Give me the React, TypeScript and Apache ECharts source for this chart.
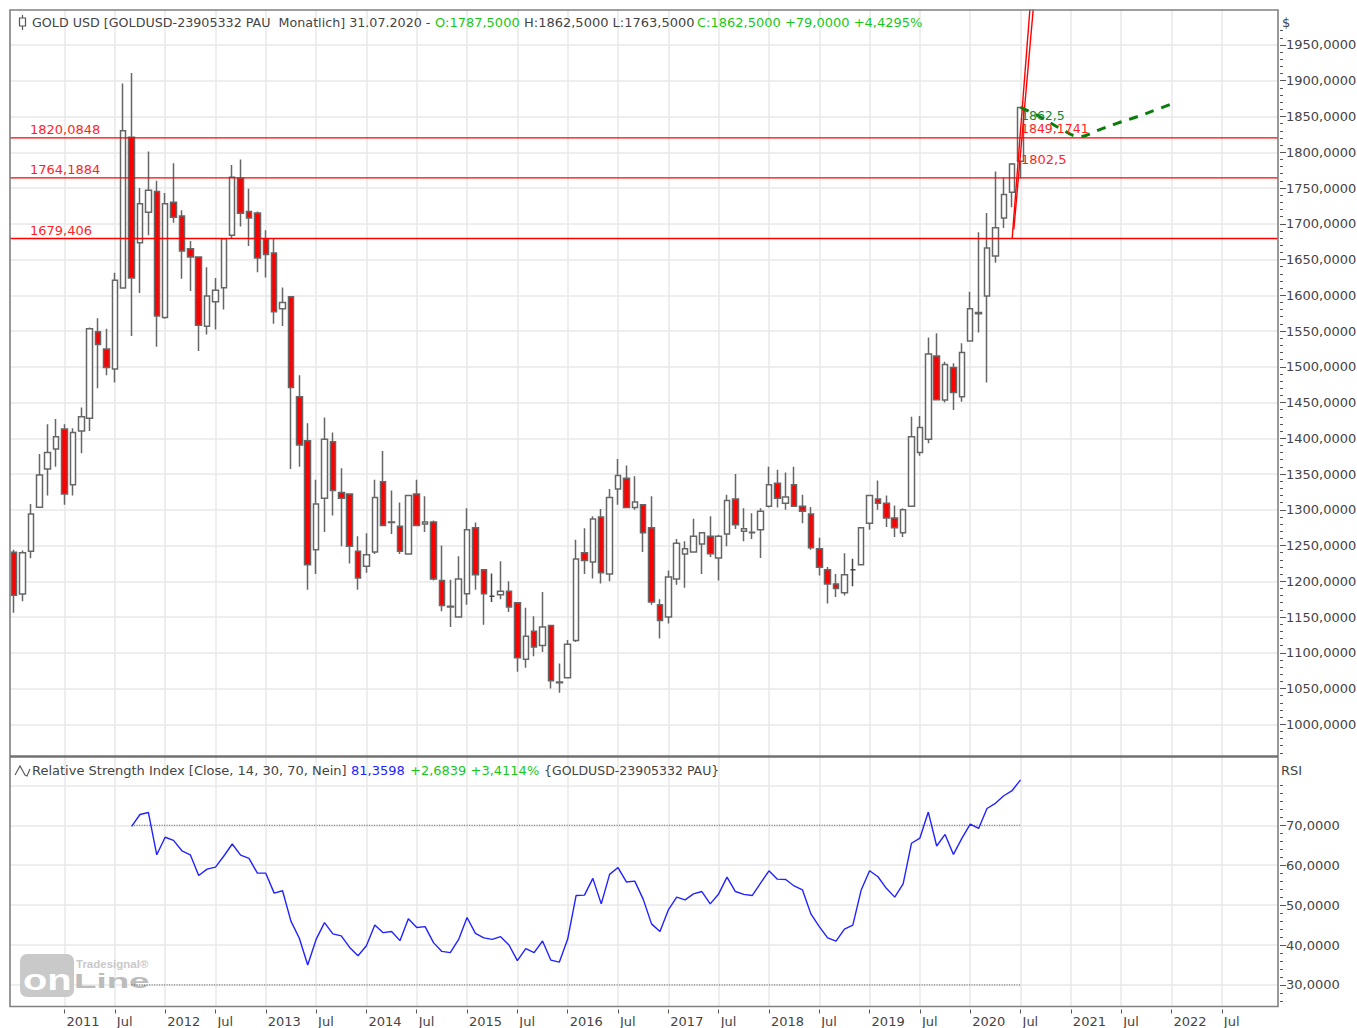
import React, { useEffect, useRef } from "react";
import * as echarts from "echarts";

const opens = [1240.5,1182,1242,1303.4,1357,1385,1413,1335,1410,1428,1549,1525,1497,1610,1821,1673.5,1716,1745,1569,1730,1711,1665,1653.5,1556.5,1591,1610.5,1684,1763.5,1717,1715,1679,1659,1581,1598,1458,1396.5,1244,1316,1395,1324,1322,1242,1221,1241,1339,1283,1277,1238,1322,1280,1283,1201,1165,1150,1182.5,1275,1216,1179,1181,1186,1170,1091,1130,1110,1138,1059,1065,1117,1240,1227,1290,1210,1329,1344,1303,1307,1275,1167,1150,1203,1238,1241,1252,1263,1232.5,1266,1315,1270,1268.5,1272,1305,1337,1309,1335,1305,1294,1245.5,1216,1196,1184,1216,1223,1281,1315,1309,1288.5,1268,1305,1380,1398.5,1515,1453.5,1499,1458,1536,1574,1599,1655,1708,1744,1787.5];
const closes = [1180.4,1240,1294,1348.6,1380,1402,1322,1408,1430,1553,1531,1499,1621,1830,1624,1728,1747,1571,1728,1709,1662,1653.5,1558,1599,1607,1679,1765,1714.6,1708,1652,1657,1577,1590,1471,1390.5,1223,1308,1398.5,1327,1316,1249,1204.5,1237,1317,1278,1282,1242,1320,1278,1283,1203,1166,1164,1203,1272,1209,1182.5,1179,1186,1164,1093,1123,1108,1136,1061,1058,1112,1231,1229,1287,1212,1317,1348,1303,1311,1268,1171,1145,1206,1253,1245.5,1263,1268,1238.5,1263,1313,1279,1273.5,1268,1298,1335,1316,1318,1305,1298,1247,1219.5,1196,1190,1209,1216,1275,1320,1309,1288.5,1275,1300,1402,1415,1518,1454,1503,1464,1520,1581,1576,1666,1694.5,1741,1783.5,1862.5];
const lows = [1156,1172,1232,1303,1320,1360,1307,1320,1379,1410,1470,1488,1478,1610,1543,1603,1684,1528,1567,1701.5,1623,1606,1522,1545,1552,1580,1680,1696,1669,1632,1625,1560,1557,1357,1360,1188,1210,1269,1292,1249,1225,1188,1212,1238,1277,1266,1238,1237,1277,1269,1201,1158,1136,1150,1167,1188,1139,1171,1175,1157,1073.5,1079,1095,1101,1050,1044,1065,1115,1210,1204,1197,1200,1307,1302,1300,1241,1167,1120,1141,1195,1191,1240,1210,1234,1201,1249,1273,1256,1259,1232.5,1303,1303,1300,1305,1281,1244,1208,1169,1178,1180,1193,1223,1272,1300,1276,1262,1262,1305,1375.5,1393,1454,1450,1439.5,1451,1536,1548,1478,1645.5,1694,1723,1763.5];
const highs = [1244,1243,1308,1378,1419.5,1427,1419.5,1414,1443,1555,1568,1553,1631.5,1896,1911,1750,1801,1760,1743,1784.5,1719,1676,1654,1639,1624,1679,1782,1790,1749,1717,1691,1679,1611,1598,1488,1421,1342,1429,1408,1358,1322,1263,1267,1342,1382,1327,1310,1320,1342,1319,1285,1250,1202,1235,1302,1282,1216,1211,1228,1200,1170,1163,1151,1185,1138,1085,1118,1258,1274,1291,1301,1329,1371,1362,1347,1307,1319,1175,1215,1259,1256,1287.5,1268.5,1291,1265,1321,1350,1302,1295,1302,1360,1356,1352,1360,1321,1304,1261,1220,1210,1239,1231.5,1275,1320,1341,1320,1306,1302,1430,1431,1541,1547,1507,1505,1533,1605,1688,1715,1773,1764,1785,1862.5];

const rsiFirstIndex = 14;
const rsiValues = [69.7,72.7,73.2,62.6,67,66.2,63.6,62.6,57.4,59,59.5,62.3,65.3,62.5,61.7,58,58,53,53.6,46,41.7,35,41.4,45.6,42.8,42.3,39.4,37.3,39.8,45,43.1,43.4,41.1,46.6,44.4,44.6,40.6,38.4,38.1,41.4,46.9,42.9,41.8,41.4,42.1,40,36.1,39.1,38.1,41,36.2,35.7,41.5,52.4,52.5,56.7,50.3,57.7,59.4,55.8,56,51.5,45.3,43.4,48.8,52,51.3,52.8,53.4,50.3,52.8,57,53.4,52.7,52.4,55.5,58.6,56.5,56.4,54.8,53.8,47.8,44.6,41.8,41,44,45,53.8,58.6,57.1,54.2,52,55.3,65.5,66.8,73.3,64.8,67.7,62.7,66.7,70.3,69.2,74.2,75.5,77.4,78.7,81.36];

const levelValues = [1820.0848, 1764.1884, 1679.406];
const levelLabels = ["1820,0848", "1764,1884", "1679,406"];
const fanLineA = [[119, 1679.4], [121.15, 2005]];
const fanLineB = [[119.2, 1692], [121.55, 2005]];
const projection = [[120,1862.9],[122.3,1849.7],[124.7,1833.5],[127.1,1821.8],[129.1,1830.2],[131.5,1840.5],[133.9,1849.7],[136.3,1860],[138,1867.5]];

const xTickValues = [6,12,18,24,30,36,42,48,54,60,66,72,78,84,90,96,102,108,114,120,126,132,138,144];
const xTickLabels = ["2011","Jul","2012","Jul","2013","Jul","2014","Jul","2015","Jul","2016","Jul","2017","Jul","2018","Jul","2019","Jul","2020","Jul","2021","Jul","2022","Jul"];
const priceTicks = [1000,1050,1100,1150,1200,1250,1300,1350,1400,1450,1500,1550,1600,1650,1700,1750,1800,1850,1900,1950];
const priceMinor = [960,970,980,990,1010,1020,1030,1040,1060,1070,1080,1090,1110,1120,1130,1140,1160,1170,1180,1190,1210,1220,1230,1240,1260,1270,1280,1290,1310,1320,1330,1340,1360,1370,1380,1390,1410,1420,1430,1440,1460,1470,1480,1490,1510,1520,1530,1540,1560,1570,1580,1590,1610,1620,1630,1640,1660,1670,1680,1690,1710,1720,1730,1740,1760,1770,1780,1790,1810,1820,1830,1840,1860,1870,1880,1890,1910,1920,1930,1940,1960,1970];
const rsiGrid = [30,40,50,60,70,80];
const rsiTicks = [30,40,50,60,70];
const rsiMinor = [26,28,32,34,36,38,42,44,46,48,52,54,56,58,62,64,66,68,72,74,76,78,80];

const TXT = "#444444", GREEN = "#18c818", RED = "#ff1f1f", BLUE = "#2222ff", GRID = "#e8e8e8", FRAME = "#808080";
const FONT = "'DejaVu Sans'";
const comma = (v: number) => v.toFixed(4).replace(".", ",");
const t = (text: string, x: number, y: number, fill: string, fontSize = 13, extra: any = {}) => ({
  type: "text", x, y, silent: true, z: extra.z ?? 20, scaleX: extra.scaleX ?? 1, originX: 0,
  style: { text, fill, font: `${extra.weight || "normal"} ${fontSize}px ${extra.family || FONT}`, verticalAlign: "middle" },
});

export default function App() {
  const ref = useRef<HTMLDivElement>(null);
  useEffect(() => {
    const chart = echarts.init(ref.current!, null, { renderer: "svg" });
    const X_MIN = -0.5, X_MAX = 150.7;
    const noLine = { show: false, onZero: false };
    const tickStyle = { color: "#555", width: 1 };
    const yLabel = { show: true, margin: 6, padding: [6, 0, 0, 0], color: TXT, fontFamily: FONT, fontSize: 13, formatter: comma };
    chart.setOption({
      animation: false,
      backgroundColor: "#ffffff",
      grid: [
        { left: 10, width: 1268, top: 10, height: 746, outerBoundsMode: "none" },
        { left: 10, width: 1268, top: 757, height: 249.5, outerBoundsMode: "none" },
      ],
      xAxis: [
        { type: "value", gridIndex: 0, min: X_MIN, max: X_MAX, axisLine: noLine, axisLabel: { show: false },
          axisTick: { show: false, customValues: xTickValues }, splitLine: { show: true, lineStyle: { color: GRID, width: 1.5 } } },
        { type: "value", gridIndex: 1, min: X_MIN, max: X_MAX, offset: 3, axisLine: noLine,
          axisTick: { show: true, length: 4, customValues: xTickValues, lineStyle: tickStyle },
          axisLabel: { show: true, customValues: xTickValues, align: "left", margin: 5, padding: [0, 0, 0, 2], color: TXT, fontFamily: FONT, fontSize: 13,
            formatter: (v: number) => xTickLabels[xTickValues.indexOf(v)] ?? "" },
          splitLine: { show: true, lineStyle: { color: GRID, width: 1.5 } } },
      ],
      yAxis: [
        { type: "value", gridIndex: 0, position: "right", min: 955.6, max: 1998.95, offset: 2, axisLine: noLine,
          axisTick: { show: true, length: 6, customValues: priceTicks, lineStyle: tickStyle },
          axisLabel: { ...yLabel, customValues: priceTicks },
          splitLine: { show: true, lineStyle: { color: GRID, width: 1.5 } } },
        { type: "value", gridIndex: 0, position: "right", min: 955.6, max: 1998.95, offset: 2, axisLine: noLine,
          axisLabel: { show: false }, splitLine: { show: false },
          axisTick: { show: true, length: 3, customValues: priceMinor, lineStyle: tickStyle } },
        { type: "value", gridIndex: 1, position: "right", min: 24.6, max: 87.1, axisLine: noLine, axisLabel: { show: false },
          axisTick: { show: false, customValues: rsiGrid }, splitLine: { show: true, lineStyle: { color: GRID, width: 1.5 } } },
        { type: "value", gridIndex: 1, position: "right", min: 24.6, max: 87.1, offset: 2, axisLine: noLine, splitLine: { show: false },
          axisTick: { show: true, length: 6, customValues: rsiTicks, lineStyle: tickStyle },
          axisLabel: { ...yLabel, customValues: rsiTicks } },
        { type: "value", gridIndex: 1, position: "right", min: 24.6, max: 87.1, offset: 2, axisLine: noLine,
          axisLabel: { show: false }, splitLine: { show: false },
          axisTick: { show: true, length: 3, customValues: rsiMinor, lineStyle: tickStyle } },
      ],
      series: [
        { type: "candlestick", name: "GOLD USD", xAxisIndex: 0, yAxisIndex: 0, barWidth: 6, z: 3,
          itemStyle: { color: "#ffffff", color0: "#ff0000", borderColor: "#666666", borderColor0: "#666666", borderColorDoji: "#444444", borderWidth: 1.5 },
          data: opens.map((o, i) => [i, o, closes[i], lows[i], highs[i]]) },
        ...levelValues.map((v) => ({
          type: "line", xAxisIndex: 0, yAxisIndex: 0, showSymbol: false, symbol: "none", z: 4,
          lineStyle: { color: "#ff0000", width: 1.4 }, data: [[X_MIN, v], [X_MAX, v]],
        })),
        ...[fanLineA, fanLineB].map((d) => ({
          type: "line", xAxisIndex: 0, yAxisIndex: 0, symbol: "none", z: 5, lineStyle: { color: "#ff0000", width: 1.4 }, data: d,
        })),
        { type: "line", xAxisIndex: 0, yAxisIndex: 0, symbol: "none", smooth: 0.4, z: 6,
          lineStyle: { color: "#0a7d0a", width: 3, type: [9, 8] }, data: projection },
        ...[70, 30].map((v) => ({
          type: "line", xAxisIndex: 1, yAxisIndex: 2, symbol: "none", z: 3,
          lineStyle: { color: "#555555", width: 1, type: [1, 1.5] }, data: [[rsiFirstIndex, v], [120, v]],
        })),
        { type: "line", name: "RSI", xAxisIndex: 1, yAxisIndex: 2, symbol: "none", z: 4,
          lineStyle: { color: "#2222ff", width: 1.4 }, data: rsiValues.map((v, i) => [i + rsiFirstIndex, v]) },
      ],
      graphic: [
        { type: "rect", silent: true, z: 15, shape: { x: 10, y: 10, width: 1268, height: 996.5 }, style: { fill: "none", stroke: FRAME, lineWidth: 1.6 } },
        { type: "line", silent: true, z: 15, shape: { x1: 10, y1: 756.5, x2: 1278, y2: 756.5 }, style: { stroke: "#707070", lineWidth: 2.4 } },
        { type: "line", silent: true, z: 20, shape: { x1: 22.5, y1: 15, x2: 22.5, y2: 30 }, style: { stroke: "#555", lineWidth: 1.2 } },
        { type: "rect", silent: true, z: 20, shape: { x: 19.5, y: 18, width: 6, height: 8 }, style: { fill: "#fff", stroke: "#555", lineWidth: 1.2 } },
        { type: "polyline", silent: true, z: 20, shape: { points: [[15, 775], [20, 766], [25, 775], [27, 776], [30, 769]] }, style: { fill: "none", stroke: "#555", lineWidth: 1.1 } },
        t("GOLD USD [GOLDUSD-23905332 PAU  Monatlich] 31.07.2020 -", 32, 22.5, TXT, 12.7),
        t("O:1787,5000", 435, 22.5, GREEN),
        t("H:1862,5000 L:1763,5000", 524, 22.5, TXT),
        t("C:1862,5000 +79,0000 +4,4295%", 697, 22.5, GREEN),
        t("$", 1282, 22.5, TXT),
        t("Relative Strength Index [Close, 14, 30, 70, Nein]", 32, 770.5, TXT),
        t("81,3598", 351, 770.5, BLUE),
        t("+2,6839 +3,4114%", 410, 770.5, GREEN),
        t("{GOLDUSD-23905332 PAU}", 544, 770.5, TXT, 12.5),
        t("RSI", 1281, 770.5, TXT),
        t(levelLabels[0], 30, 129, RED),
        t(levelLabels[1], 30, 169, RED),
        t(levelLabels[2], 30, 230, RED),
        t("1862,5", 1021, 115.5, "#0a8a3a", 12.5),
        t("1849,1741", 1021, 128.5, RED, 12.5),
        t("1802,5", 1021, 159, RED),
        { type: "rect", silent: true, z: 1, shape: { x: 20, y: 954, width: 54, height: 43, r: 7 }, style: { fill: "#c9c9c9" } },
        t("on", 23, 979, "#ffffff", 30, { weight: "bold", family: "'Liberation Sans'", scaleX: 1.33, z: 2 }),
        t("Line", 74, 981, "#bcbcbc", 21, { weight: "bold", family: "'Liberation Sans'", scaleX: 1.75, z: 2 }),
        t("Tradesignal®", 76, 964, "#c9c9c9", 11.5, { weight: "bold", family: "'Liberation Sans'", z: 2 }),
      ],
    });
    return () => chart.dispose();
  }, []);
  return <div ref={ref} style={{ position: "absolute", left: 0, top: 0, width: 1357, height: 1028 }} />;
}
